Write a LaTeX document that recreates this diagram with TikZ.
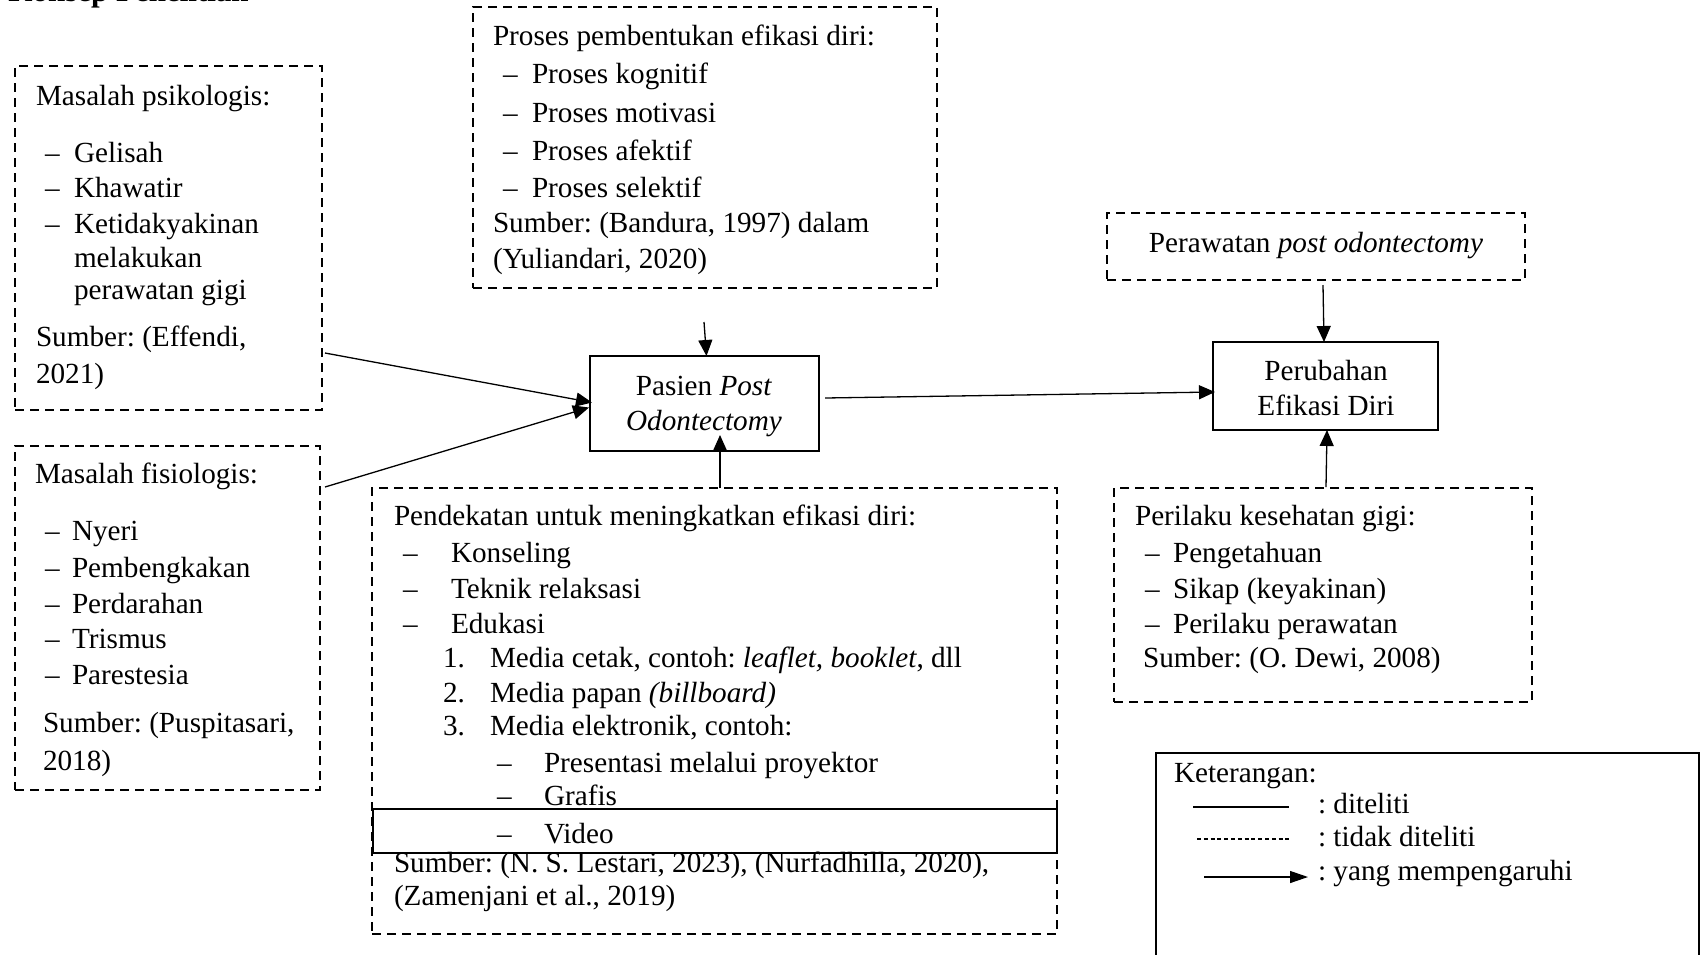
\documentclass[tikz,border=0pt]{standalone}
\usepackage{fontspec}
\setmainfont{Liberation Serif}
\usetikzlibrary{arrows.meta,calc,fit}
\begin{document}
\frenchspacing
\begin{tikzpicture}[x=0.5pt,y=-0.5pt,
  txt/.style={anchor=base west, inner sep=0pt, outer sep=0pt, font=\fontsize{14.6}{17}\selectfont},
  ctxt/.style={anchor=base, inner sep=0pt, outer sep=0pt, font=\fontsize{14.6}{17}\selectfont},
  dbox/.style={draw, line width=1.2pt, dash pattern=on 4.5pt off 3pt, inner sep=0pt, outer sep=0pt},
  sbox/.style={draw, line width=1.3pt, inner sep=0pt, outer sep=0pt},
  arr/.style={line width=0.65pt, -{Triangle[length=8pt,width=7pt]}}]
\useasboundingbox (0,0) rectangle (1701,954);

% title (cut off at top, as in the reference)
\node[anchor=base west, inner sep=0pt, font=\fontsize{15.5}{18}\selectfont\bfseries] (title) at (8,1) {Konsep Penelitian};

% ---------- boxes ----------
\node[dbox, fit={(15,66) (322,410)}] (psi) {};
\node[dbox, fit={(15,446) (320,790)}] (fis) {};
\node[dbox, fit={(473,7) (937,288)}] (pros) {};
\node[sbox, fit={(590,356) (819,451)}] (pasien) {};
\node[dbox, fit={(372,488) (1057,934)}] (pend) {};
\node[sbox, fit={(373,809) (1057,853)}] (video) {};
\node[dbox, fit={(1107,213) (1525,280)}] (rawat) {};
\node[sbox, fit={(1213,342) (1438,430)}] (ubah) {};
\node[dbox, fit={(1114,488) (1532,702)}] (laku) {};
\node[draw, line width=1.2pt, inner sep=0pt, outer sep=0pt, fit={(1156,753) (1699,980)}] (leg) {};

% ---------- psikologis ----------
\node[txt] (psiT) at (36,105) {Masalah psikologis:};
\foreach \y/\t [count=\i] in {162/Gelisah, 197/Khawatir, 233/Ketidakyakinan}{
  \node[txt] (psiD\i) at (45,\y) {\textendash};
  \node[txt] (psiI\i) at (74,\y) {\t};
}
\node[txt] (psiI4) at (74,267) {melakukan};
\node[txt] (psiI5) at (74,299) {perawatan gigi};
\node[txt] (psiS1) at (36,346) {Sumber: (Effendi,};
\node[txt] (psiS2) at (36,383) {2021)};

% ---------- fisiologis ----------
\node[txt] (fisT) at (35,483) {Masalah fisiologis:};
\foreach \y/\t [count=\i] in {540/Nyeri, 577/Pembengkakan, 613/Perdarahan, 648/Trismus, 684/Parestesia}{
  \node[txt] (fisD\i) at (45,\y) {\textendash};
  \node[txt] (fisI\i) at (72,\y) {\t};
}
\node[txt] (fisS1) at (43,732) {Sumber: (Puspitasari,};
\node[txt] (fisS2) at (43,770) {2018)};

% ---------- proses ----------
\node[txt] (prosT) at (493,45) {Proses pembentukan efikasi diri:};
\foreach \y/\t [count=\i] in {83/Proses kognitif, 122/Proses motivasi, 160/Proses afektif, 197/Proses selektif}{
  \node[txt] (prosD\i) at (503,\y) {\textendash};
  \node[txt] (prosI\i) at (532,\y) {\t};
}
\node[txt] (prosS1) at (493,232) {Sumber: (Bandura, 1997) dalam};
\node[txt] (prosS2) at (493,268) {(Yuliandari, 2020)};

% ---------- pasien ----------
\node[ctxt] (pasT1) at (704,395) {Pasien \textit{Post}};
\node[ctxt] (pasT2) at (704,430) {\textit{Odontectomy}};

% ---------- pendekatan ----------
\node[txt] (pendT) at (394,525) {Pendekatan untuk meningkatkan efikasi diri:};
\foreach \y/\t [count=\i] in {562/Konseling, 598/Teknik relaksasi, 633/Edukasi}{
  \node[txt] (pendD\i) at (403,\y) {\textendash};
  \node[txt] (pendI\i) at (451,\y) {\t};
}
\node[txt] (pendN1) at (443,667) {1.};
\node[txt] (pendM1) at (490,667) {Media cetak, contoh: \textit{leaflet, booklet}, dll};
\node[txt] (pendN2) at (443,702) {2.};
\node[txt] (pendM2) at (490,702) {Media papan \textit{(billboard)}};
\node[txt] (pendN3) at (443,735) {3.};
\node[txt] (pendM3) at (490,735) {Media elektronik, contoh:};
\foreach \y/\t [count=\i] in {772/Presentasi melalui proyektor, 805/Grafis, 843/Video}{
  \node[txt] (pendE\i) at (497,\y) {\textendash};
  \node[txt] (pendF\i) at (544,\y) {\t};
}
\node[txt] (pendS1) at (394,872) {Sumber: (N. S. Lestari, 2023), (Nurfadhilla, 2020),};
\node[txt] (pendS2) at (394,905) {(Zamenjani et al., 2019)};

% ---------- perawatan ----------
\node[ctxt] (rawT) at (1316,252) {Perawatan \textit{post odontectomy}};

% ---------- perubahan ----------
\node[ctxt] (ubT1) at (1326,380) {Perubahan};
\node[ctxt] (ubT2) at (1326,415) {Efikasi Diri};

% ---------- perilaku ----------
\node[txt] (lakT) at (1135,525) {Perilaku kesehatan gigi:};
\foreach \y/\t [count=\i] in {562/Pengetahuan, 598/Sikap (keyakinan), 633/Perilaku perawatan}{
  \node[txt] (lakD\i) at (1145,\y) {\textendash};
  \node[txt] (lakI\i) at (1173,\y) {\t};
}
\node[txt] (lakS) at (1143,667) {Sumber: (O. Dewi, 2008)};

% ---------- legend ----------
\node[txt] (legT) at (1174,782) {Keterangan:};
\coordinate (l1a) at (1193,807); \coordinate (l1b) at (1289,807);
\coordinate (l2a) at (1197,839); \coordinate (l2b) at (1289,839);
\coordinate (l3a) at (1204,877); \coordinate (l3b) at (1308,877);
\draw[line width=0.6pt] (l1a) -- (l1b);
\draw[line width=0.6pt, dash pattern=on 2pt off 1.4pt] (l2a) -- (l2b);
\draw[line width=0.65pt, -{Triangle[length=9pt,width=6pt]}] (l3a) -- (l3b);
\node[txt] (leg1) at (1318,813) {: diteliti};
\node[txt] (leg2) at (1318,846) {: tidak diteliti};
\node[txt] (leg3) at (1318,880) {: yang mempengaruhi};

% ---------- connectors ----------
\draw[arr] ($(psi.east)+(3,115)$) -- ($(pasien.west)+(2,-1)$);
\draw[arr] ($(fis.east)+(5,-131)$) -- ($(pasien.west)+(-1,4)$);
\coordinate (prosOut) at (704,322);
\draw[arr] (prosOut) -- ($(pasien.north)+(2,0)$);
\draw[arr] ($(pend.north)+(5.5,0)$) -- ($(pasien.south)+(15.5,-16)$);
\draw[arr] ($(pasien.east)+(6,-5.5)$) -- ($(ubah.west)+(2,6)$);
\draw[arr] ($(rawat.south)+(7,5)$) -- ($(ubah.north)+(-1.5,0)$);
\draw[arr] ($(laku.north)+(3,-1)$) -- ($(ubah.south)+(1.5,0)$);
\end{tikzpicture}
\end{document}
